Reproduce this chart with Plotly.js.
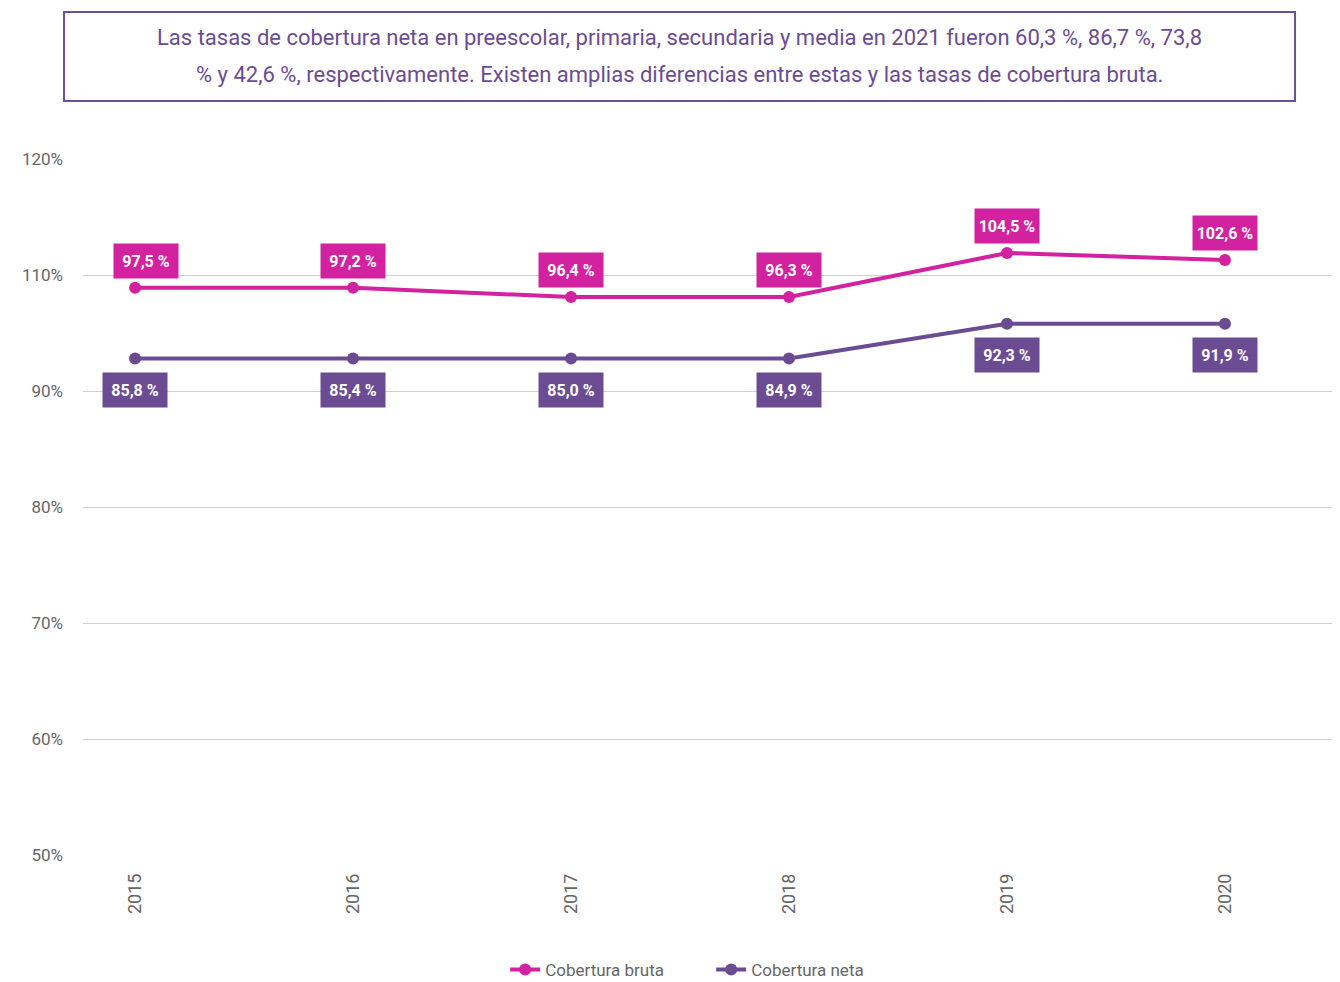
<!DOCTYPE html>
<html>
<head>
<meta charset="utf-8">
<script src="https://cdn.plot.ly/plotly-3.0.1.min.js"></script>
<style>html,body{margin:0;padding:0;background:#fff;}#chart{width:1340px;height:982px;}</style>
</head>
<body>
<div id="chart"></div>
<script>
// Categories
const years = [2015, 2016, 2017, 2018, 2019, 2020];
// Series positions as drawn against the chart's y axis (axis units)
const brutaValues = [108.9, 108.9, 108.1, 108.1, 111.9, 111.3];
const netaValues  = [102.8, 102.8, 102.8, 102.8, 105.8, 105.8];
// Data labels printed on the chart
const brutaLabels = ['97,5 %', '97,2 %', '96,4 %', '96,3 %', '104,5 %', '102,6 %'];
const netaLabels  = ['85,8 %', '85,4 %', '85,0 %', '84,9 %', '92,3 %', '91,9 %'];
// Y axis ticks
const yTickVals = [60, 70, 80, 90, 100, 110, 120];
const yTickText = ['50%', '60%', '70%', '80%', '90%', '110%', '120%'];
const seriesNames = ['Cobertura bruta', 'Cobertura neta'];
const titleLines = [
  'Las tasas de cobertura neta en preescolar, primaria, secundaria y media en 2021 fueron 60,3 %, 86,7 %, 73,8',
  '% y 42,6 %, respectivamente. Existen amplias diferencias entre estas y las tasas de cobertura bruta.'
];

const C_BRUTA = '#D2229F';
const C_NETA = '#6B4C93';
const FONT = 'Roboto, "Noto Sans", sans-serif';

const traces = [
  {x: years, y: brutaValues, name: seriesNames[0], type: 'scatter', mode: 'lines+markers',
   line: {color: C_BRUTA, width: 4}, marker: {color: C_BRUTA, size: 12}, hoverinfo: 'skip'},
  {x: years, y: netaValues, name: seriesNames[1], type: 'scatter', mode: 'lines+markers',
   line: {color: C_NETA, width: 4}, marker: {color: C_NETA, size: 12}, hoverinfo: 'skip'}
];

const annotations = [];
years.forEach((yr, i) => {
  annotations.push({x: yr, y: brutaValues[i], xref: 'x', yref: 'y', text: '<b>' + brutaLabels[i] + '</b>',
    showarrow: false, yshift: 27, xshift: i === 0 ? 11 : 0, bgcolor: C_BRUTA, width: 62, height: 32,
    font: {family: FONT, size: 16, color: '#fff'}});
  annotations.push({x: yr, y: netaValues[i], xref: 'x', yref: 'y', text: '<b>' + netaLabels[i] + '</b>',
    showarrow: false, yshift: -31, bgcolor: C_NETA, width: 62, height: 32,
    font: {family: FONT, size: 16, color: '#fff'}});
});
annotations.push({x: 0.4772, y: 1.1739, xref: 'paper', yref: 'paper', text: titleLines[0], showarrow: false,
  font: {family: FONT, size: 22, color: C_NETA}, xanchor: 'center', yanchor: 'middle'});
annotations.push({x: 0.4772, y: 1.1221, xref: 'paper', yref: 'paper', text: titleLines[1], showarrow: false,
  font: {family: FONT, size: 22, color: C_NETA}, xanchor: 'center', yanchor: 'middle'});

const layout = {
  width: 1340, height: 982,
  margin: {l: 83, r: 8, t: 159, b: 127, autoexpand: false},
  paper_bgcolor: '#fff', plot_bgcolor: '#fff',
  font: {family: FONT, color: '#666'},
  showlegend: true,
  legend: {orientation: 'h', x: 0.338, xanchor: 'left', y: 0.0122, yref: 'container', yanchor: 'middle',
    font: {family: FONT, size: 17, color: '#666'}, entrywidth: 161, entrywidthmode: 'pixels'},
  xaxis: {range: [2014.761, 2020.491], tickvals: years, ticktext: years.map(String), tickangle: -90,
    showgrid: false, zeroline: false, showline: false, ticks: '', ticklabelstandoff: 14, automargin: false,
    tickfont: {family: FONT, size: 18, color: '#666'}, fixedrange: true},
  yaxis: {range: [60, 120], tickvals: yTickVals, ticktext: yTickText, showgrid: true, gridcolor: '#d0d0d0',
    gridwidth: 1, zeroline: false, showline: false, ticks: '', ticklabelstandoff: 19, automargin: false,
    tickfont: {family: FONT, size: 17, color: '#666'}, fixedrange: true},
  shapes: [{type: 'rect', xref: 'paper', yref: 'paper', x0: -0.0152, x1: 0.9704, y0: 1.0833, y1: 1.2112,
    line: {color: '#6E4F96', width: 2}, fillcolor: 'rgba(0,0,0,0)'}],
  annotations: annotations
};

Plotly.newPlot('chart', traces, layout, {displayModeBar: false, staticPlot: true});
</script>
</body>
</html>
